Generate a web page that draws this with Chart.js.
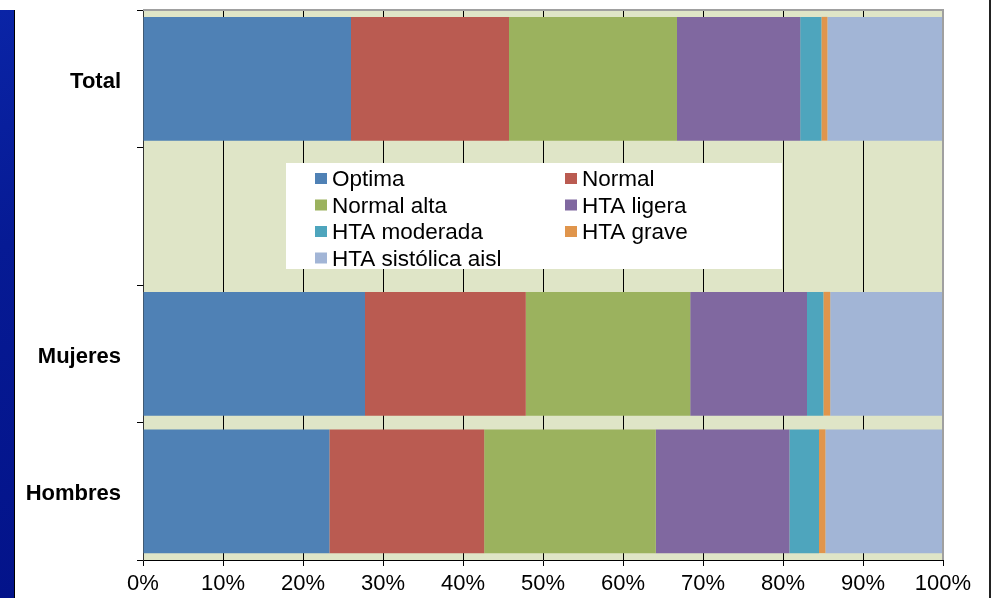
<!DOCTYPE html>
<html>
<head>
<meta charset="utf-8">
<script src="https://cdn.jsdelivr.net/npm/chart.js@4.4.1/dist/chart.umd.min.js"></script>
<style>
  html, body { margin: 0; padding: 0; background: #fff; }
  #wrap { position: relative; width: 992px; height: 598px; overflow: hidden; }
  #franja { position: absolute; left: 0; top: 10px; width: 14px; height: 588px;
            background: linear-gradient(160deg, #0a24a6 0%, #061a94 40%, #03138a 100%);
            border-right: 1px solid #000; }
  #borde { position: absolute; left: 989px; top: 0; width: 2px; height: 598px; background: #222; }
  canvas { position: absolute; left: 0; top: 0; }
</style>
</head>
<body>
<div id="wrap">
  <div id="franja"></div>
  <div id="borde"></div>
  <canvas id="grafico" width="992" height="598"></canvas>
</div>
<script>
// Categorías (la segunda queda vacía: ahí va la leyenda)
const categorias = ['Total', '', 'Mujeres', 'Hombres'];
const xTicks = [0, 10, 20, 30, 40, 50, 60, 70, 80, 90, 100];

// Porcentajes por clasificación de presión arterial
const optima      = [26.0, null, 27.75, 23.3];
const normal      = [19.75, null, 20.1, 19.35];
const normalAlta  = [21.0, null, 20.55, 21.45];
const htaLigera   = [15.4, null, 14.6, 16.7];
const htaModerada = [2.65, null, 2.05, 3.7];
const htaGrave    = [0.75, null, 0.85, 0.8];
const htaSistolica = [14.45, null, 14.1, 14.7];

const CORES = {
    optima: '#4f81b5',
    normal: '#ba5b51',
    normalAlta: '#9bb25e',
    ligera: '#8068a0',
    moderada: '#4ea5bd',
    grave: '#e0954c',
    sistolica: '#a2b5d6',
    fondo: '#dfe5c7',
};

Chart.defaults.font.family = "'Liberation Sans', Arial, sans-serif";
Chart.defaults.color = '#000';
Chart.defaults.animation = false;

function serie(label, data, color) {
    return { label, data, backgroundColor: color, borderWidth: 0,
             barPercentage: 0.9, categoryPercentage: 1.0 };
}

// Fondo del área de trazado y borde gris
const fondoPlugin = {
    id: 'fondo',
    beforeDraw(chart) {
        const { ctx, chartArea: a } = chart;
        ctx.save();
        ctx.fillStyle = CORES.fondo;
        ctx.fillRect(a.left, a.top, a.right - a.left, a.bottom - a.top);
        ctx.restore();
    },
    afterDraw(chart) {
        const { ctx, chartArea: a } = chart;
        ctx.save();
        ctx.strokeStyle = '#a0a0a0';
        ctx.lineWidth = 2;
        ctx.beginPath();
        ctx.moveTo(a.left, a.top);
        ctx.lineTo(a.right, a.top);
        ctx.lineTo(a.right, a.bottom);
        ctx.stroke();
        ctx.restore();
    },
};

// Leyenda dibujada dentro del hueco de la categoría vacía
const leyendaPlugin = {
    id: 'leyendaInterna',
    afterDraw(chart) {
        const ctx = chart.ctx;
        const bx = 286, by = 163, bw = 496, bh = 106;
        ctx.save();
        ctx.fillStyle = '#fff';
        ctx.fillRect(bx, by, bw, bh);
        ctx.font = "22.5px 'Liberation Sans', Arial, sans-serif";
        ctx.textBaseline = 'middle';
        chart.data.datasets.forEach((ds, i) => {
            const col = i % 2, fila = Math.floor(i / 2);
            const x = col === 0 ? 315 : 565;
            const y = 179 + fila * 26.5;
            ctx.fillStyle = ds.backgroundColor;
            ctx.fillRect(x, y - 6, 12, 11);
            ctx.fillStyle = '#000';
            ctx.fillText(ds.label, x + 17, y + 1);
        });
        ctx.restore();
    },
};

new Chart(document.getElementById('grafico'), {
    type: 'bar',
    data: {
        labels: categorias,
        datasets: [
            serie('Optima', optima, CORES.optima),
            serie('Normal', normal, CORES.normal),
            serie('Normal alta', normalAlta, CORES.normalAlta),
            serie('HTA ligera', htaLigera, CORES.ligera),
            serie('HTA moderada', htaModerada, CORES.moderada),
            serie('HTA grave', htaGrave, CORES.grave),
            serie('HTA sistólica aisl', htaSistolica, CORES.sistolica),
        ],
    },
    options: {
        indexAxis: 'y',
        responsive: false,
        layout: { padding: { top: 10, right: 49, left: 0, bottom: 0 } },
        plugins: { legend: { display: false }, tooltip: { enabled: false } },
        scales: {
            x: {
                stacked: true,
                min: 0,
                max: 100,
                afterBuildTicks(axis) { axis.ticks = xTicks.map(v => ({ value: v })); },
                afterFit(axis) { axis.height = 38; },
                grid: { color: '#000', lineWidth: 1, tickLength: 6, drawTicks: true },
                border: { color: '#000', width: 1 },
                ticks: { font: { size: 22 }, padding: 5, callback: v => v + '%' , maxRotation: 0 },
            },
            y: {
                stacked: true,
                afterFit(axis) { axis.width = 143; axis.paddingTop = 0; axis.paddingBottom = 0; },
                grid: { drawOnChartArea: false, offset: true, color: '#000', tickLength: 6 },
                border: { color: '#333', width: 1 },
                ticks: { font: { size: 22, weight: 'bold' }, padding: 16, labelOffset: 3 },
            },
        },
    },
    plugins: [fondoPlugin, leyendaPlugin],
});
</script>
</body>
</html>
